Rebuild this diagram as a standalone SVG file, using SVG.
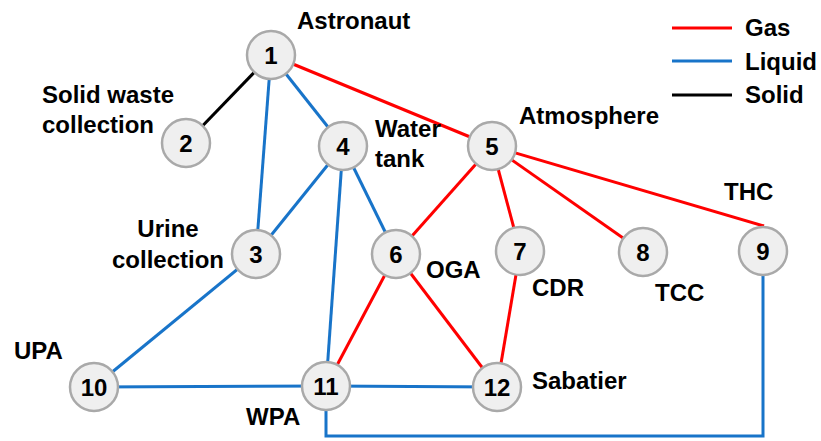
<svg xmlns="http://www.w3.org/2000/svg" width="821" height="441" viewBox="0 0 821 441">
<style>
.gas{stroke:#ff0000;stroke-width:3;fill:none}
.liq{stroke:#1874c9;stroke-width:3;fill:none}
.sol{stroke:#000;stroke-width:3;fill:none}
.node circle{fill:#efefef;stroke:#a9a9a9;stroke-width:2.5}
.node text{font-family:"Liberation Sans",Arial,sans-serif;font-weight:bold;font-size:24px;text-anchor:middle;fill:#000}
.lbl{font-family:"Liberation Sans",Arial,sans-serif;font-weight:bold;font-size:24px;fill:#000}
</style>
<rect width="821" height="441" fill="#fff"/>
<g id="connectors">
<line class="sol" x1="271" y1="55" x2="186" y2="143"/>
<line class="liq" x1="271" y1="55" x2="256" y2="254"/>
<line class="liq" x1="271" y1="55" x2="343" y2="146"/>
<line class="gas" x1="271" y1="55" x2="492" y2="146"/>
<line class="liq" x1="343" y1="146" x2="256" y2="254"/>
<line class="liq" x1="343" y1="146" x2="396" y2="254"/>
<line class="liq" x1="343" y1="146" x2="326" y2="386"/>
<line class="gas" x1="492" y1="146" x2="396" y2="254"/>
<line class="gas" x1="492" y1="146" x2="520" y2="251"/>
<line class="gas" x1="492" y1="146" x2="643" y2="252"/>
<line class="gas" x1="492" y1="146" x2="764" y2="226"/>
<line class="liq" x1="256" y1="254" x2="94" y2="387"/>
<line class="liq" x1="94" y1="387" x2="326" y2="386"/>
<line class="liq" x1="326" y1="386" x2="497" y2="387"/>
<line class="gas" x1="396" y1="254" x2="326" y2="386"/>
<line class="gas" x1="396" y1="254" x2="497" y2="387"/>
<line class="gas" x1="520" y1="251" x2="497" y2="387"/>
<polyline class="liq" points="326,386 326,436 763,436 763,251"/>
</g>
<g id="n1" class="node"><circle cx="271" cy="55" r="24"/><text x="271" y="64">1</text></g>
<g id="n2" class="node"><circle cx="186" cy="143" r="24"/><text x="186" y="152">2</text></g>
<g id="n3" class="node"><circle cx="256" cy="254" r="24"/><text x="256" y="263">3</text></g>
<g id="n4" class="node"><circle cx="343" cy="146" r="24"/><text x="343" y="155">4</text></g>
<g id="n5" class="node"><circle cx="492" cy="146" r="24"/><text x="492" y="155">5</text></g>
<g id="n6" class="node"><circle cx="396" cy="254" r="24"/><text x="396" y="263">6</text></g>
<g id="n7" class="node"><circle cx="520" cy="251" r="24"/><text x="520" y="260">7</text></g>
<g id="n8" class="node"><circle cx="643" cy="252" r="24"/><text x="643" y="261">8</text></g>
<g id="n9" class="node"><circle cx="763" cy="251" r="24"/><text x="763" y="260">9</text></g>
<g id="n10" class="node"><circle cx="94" cy="387" r="24"/><text x="94" y="396">10</text></g>
<g id="n11" class="node"><circle cx="326" cy="386" r="24"/><text x="326" y="395">11</text></g>
<g id="n12" class="node"><circle cx="497" cy="387" r="24"/><text x="497" y="396">12</text></g>
<g id="labels">
<text class="lbl" x="297" y="29">Astronaut</text>
<text class="lbl" x="42" y="103">Solid waste</text>
<text class="lbl" x="42" y="133">collection</text>
<text class="lbl" x="375" y="137">Water</text>
<text class="lbl" x="375" y="167">tank</text>
<text class="lbl" x="519" y="124">Atmosphere</text>
<text class="lbl" x="168" y="237" text-anchor="middle">Urine</text>
<text class="lbl" x="168" y="268" text-anchor="middle">collection</text>
<text class="lbl" x="426" y="278">OGA</text>
<text class="lbl" x="532" y="296">CDR</text>
<text class="lbl" x="655" y="301">TCC</text>
<text class="lbl" x="724" y="200">THC</text>
<text class="lbl" x="14" y="359">UPA</text>
<text class="lbl" x="246" y="425">WPA</text>
<text class="lbl" x="532" y="389">Sabatier</text>
</g>
<g id="legend">
<line class="gas" x1="672" y1="28" x2="732" y2="28"/>
<line class="liq" x1="672" y1="61" x2="732" y2="61"/>
<line class="sol" x1="672" y1="95" x2="732" y2="95"/>
<text class="lbl" x="745" y="36">Gas</text>
<text class="lbl" x="745" y="70">Liquid</text>
<text class="lbl" x="745" y="103">Solid</text>
</g>
</svg>
